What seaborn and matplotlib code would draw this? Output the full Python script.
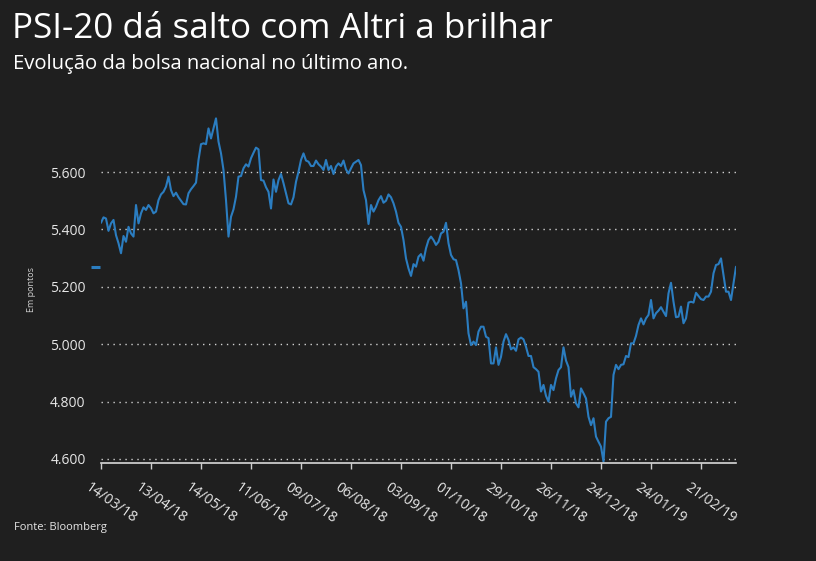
import matplotlib
matplotlib.use("Agg")
import matplotlib.pyplot as plt
import matplotlib.transforms as mtransforms
import numpy as np
import pandas as pd
import seaborn as sns

# PSI-20 fecho diário (pontos)
valores = [
    5423, 5442, 5438, 5395, 5421, 5433, 5380, 5352, 5317, 5377,
    5357, 5409, 5386, 5375, 5485, 5421, 5456, 5477, 5468, 5485,
    5474, 5456, 5462, 5502, 5522, 5531, 5549, 5584, 5537, 5516,
    5528, 5512, 5500, 5488, 5487, 5526, 5540, 5551, 5563, 5642,
    5697, 5700, 5697, 5752, 5717, 5752, 5787, 5706, 5665, 5607,
    5502, 5375,
    5444, 5470, 5514, 5584, 5586, 5613, 5627, 5619, 5648, 5667,
    5685, 5679, 5572, 5570, 5547, 5531, 5473, 5574, 5531, 5572,
    5593, 5561, 5526, 5491, 5487, 5512, 5566, 5601, 5642, 5665,
    5640, 5636, 5621, 5621, 5640, 5627, 5619, 5607, 5642, 5607,
    5621, 5593, 5619, 5630, 5621, 5640, 5609, 5595, 5613, 5630,
    5636, 5642, 5624,
    5537, 5502, 5419, 5485, 5462, 5479, 5502, 5516, 5493, 5500,
    5522, 5512, 5491, 5462, 5423, 5409, 5363, 5299, 5264, 5238,
    5279, 5270, 5305, 5314, 5291, 5334, 5363, 5375, 5363, 5346,
    5357, 5386, 5392, 5423, 5352, 5311, 5296, 5293, 5258, 5212,
    5125, 5148, 5038, 4997, 5009, 4997, 5044, 5061, 5061, 5026,
    5021,
    4933, 4933, 4989, 4928, 4956, 5009, 5035, 5015, 4982, 4989,
    4977, 5017, 5023, 5017, 4991, 4959, 4959, 4920, 4913, 4904,
    4835, 4858, 4820, 4800, 4858, 4840, 4881, 4910, 4920, 4989,
    4943, 4920, 4817, 4840, 4794, 4780, 4846, 4829, 4811, 4747,
    4718, 4742, 4678, 4660, 4643, 4591,
    4730, 4742, 4747, 4893, 4928, 4913, 4928, 4930, 4959, 4955,
    5003, 5003, 5029, 5067, 5090, 5069, 5090, 5102, 5154, 5090,
    5108, 5117, 5129, 5113, 5098, 5177, 5214, 5148, 5094, 5096,
    5131, 5073, 5090, 5145, 5148, 5145, 5179, 5168, 5157, 5154,
    5166, 5166, 5183, 5247, 5276, 5279, 5299, 5241, 5183, 5183,
    5154, 5212, 5270,
]
datas = ["14/03/18", "13/04/18", "14/05/18", "11/06/18", "09/07/18",
         "06/08/18", "03/09/18", "01/10/18", "29/10/18", "26/11/18",
         "24/12/18", "24/01/19", "21/02/19"]
passo_datas = 20
y_ticks = [4600, 4800, 5000, 5200, 5400, 5600]

BG = "#1f1f1f"
AZUL = "#2b7dc0"
TXT = "#e6e6e6"

sns.set_theme(style="dark", rc={
    "figure.facecolor": BG,
    "axes.facecolor": BG,
    "savefig.facecolor": BG,
})
plt.rcParams["font.family"] = ["Open Sans", "DejaVu Sans"]

df = pd.DataFrame({"dia": np.arange(len(valores)), "valor": valores})

fig = plt.figure(figsize=(8.16, 5.61), dpi=100)
ax = fig.add_axes([101 / 816, 1 - 463 / 561, 635 / 816, 363 / 561])

sns.lineplot(data=df, x="dia", y="valor", ax=ax, color=AZUL, linewidth=1.5)

# marca do último valor junto ao eixo
ax.hlines(valores[-1], -4, -0.3, color=AZUL, linewidth=2.2, clip_on=False)

ax.set_xlim(0, len(valores) - 1)
ax.set_ylim(4586, 5851)

ax.set_yticks(y_ticks)
ax.set_yticklabels([f"{v:,}".replace(",", ".") for v in y_ticks],
                   fontsize=10, color=TXT)
ax.tick_params(axis="y", length=0, pad=11)

pos = [i * passo_datas for i in range(len(datas))]
ax.set_xticks(pos)
ax.set_xticklabels(datas, rotation=-35, ha="left", va="top",
                   rotation_mode="anchor", fontsize=10.3, color=TXT)
ax.tick_params(axis="x", length=4.5, width=1, color="#cfcfcf",
               direction="out", pad=8, bottom=True)
off = mtransforms.ScaledTranslation(-10 / 100, 0, fig.dpi_scale_trans)
for lbl in ax.get_xticklabels():
    lbl.set_transform(lbl.get_transform() + off)

ax.grid(axis="y", color="#d0d0d0", linestyle=(0, (1, 3.3)), linewidth=1)
ax.grid(axis="x", visible=False)
for s in ["top", "right", "left"]:
    ax.spines[s].set_visible(False)
ax.spines["bottom"].set_color("#d9d9d9")
ax.spines["bottom"].set_linewidth(1.2)
ax.set_xlabel("")
ax.set_ylabel("")

fig.text(32 / 816, 1 - 290 / 561, "Em pontos", rotation=90, fontsize=6.5,
         color="#cfcfcf", ha="center", va="center")

fig.text(12 / 816, 1 - 38 / 561, "PSI-20 dá salto com Altri a brilhar",
         fontsize=25.2, color="white", va="baseline")
fig.text(13 / 816, 1 - 69 / 561, "Evolução da bolsa nacional no último ano.",
         fontsize=14.6, color="white", va="baseline")
fig.text(14 / 816, 1 - 530 / 561, "Fonte: Bloomberg", fontsize=8,
         color=TXT, va="baseline")

fig.savefig("out.png", dpi=100, facecolor=BG)
